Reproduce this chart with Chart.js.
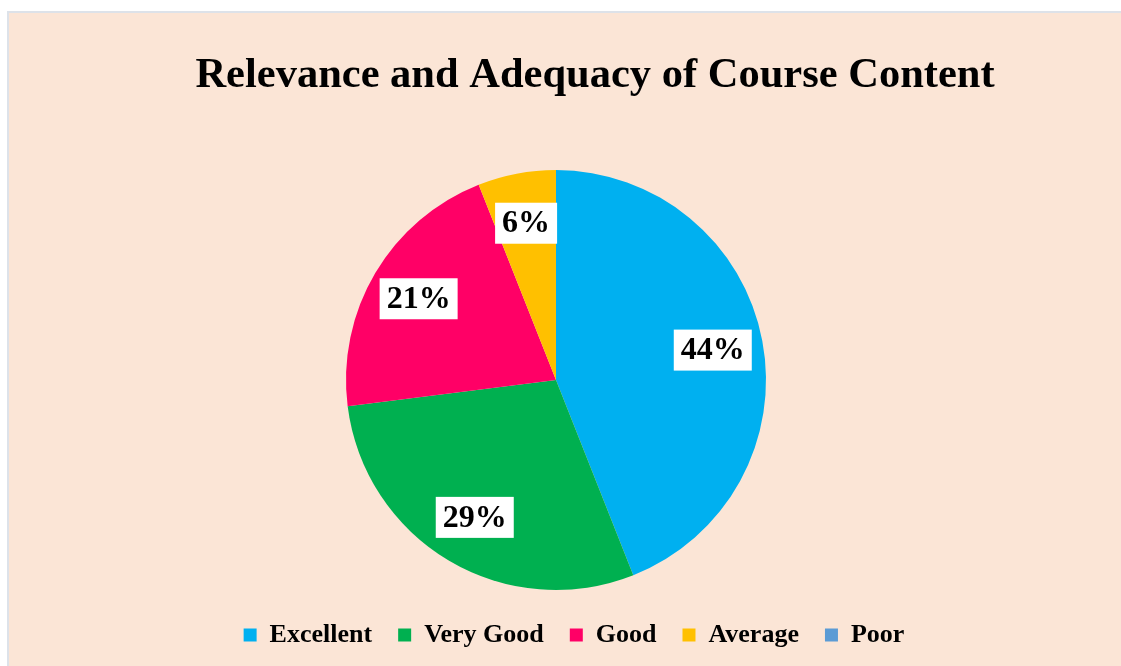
<!DOCTYPE html>
<html>
<head>
<meta charset="utf-8">
<script src="https://cdn.jsdelivr.net/npm/chart.js@4"></script>
<style>
  html, body { margin: 0; padding: 0; background: #fff; overflow: hidden; }
  #wrap {
    position: absolute; left: 7px; top: 11px;
    width: 1114px; height: 655px;
    background: #FBE5D6;
    border-top: 2px solid #dde2e9; border-left: 2px solid #dde2e9;
    box-sizing: border-box;
  }
  #courseChart { display: block; }
</style>
</head>
<body>
<div id="wrap"><canvas id="courseChart" width="1112" height="653"></canvas></div>
<script>
let ratings = ["Excellent", "Very Good", "Good", "Average", "Poor"];
let shares = [44, 29, 21, 6, 0];
let sliceColors = ["#00B0F0", "#00B050", "#FF0066", "#FFC000", "#5B9BD5"];
let chartTitle = "Relevance and Adequacy of Course Content";

let serif = "'Liberation Serif', 'Times New Roman', serif";

// title drawn a bit right of centre, like the original
let titlePlugin = {
  id: "titleText",
  afterDraw(chart) {
    let ctx = chart.ctx;
    ctx.save();
    ctx.font = "bold 42.5px " + serif;
    ctx.fillStyle = "#000";
    ctx.textAlign = "center";
    ctx.textBaseline = "alphabetic";
    ctx.fillText(chartTitle, 586, 74);
    ctx.restore();
  },
};

// percentage labels in white boxes
let labelPlugin = {
  id: "boxLabels",
  afterDatasetsDraw(chart) {
    let ctx = chart.ctx;
    let meta = chart.getDatasetMeta(0);
    ctx.save();
    ctx.font = "bold 32px " + serif;
    ctx.textAlign = "center";
    ctx.textBaseline = "middle";
    meta.data.forEach((arc, i) => {
      let v = shares[i];
      if (!v) return;
      let p = arc.getProps(["x", "y", "startAngle", "endAngle", "outerRadius"], true);
      let mid = (p.startAngle + p.endAngle) / 2;
      let r = p.outerRadius * 0.76;
      let x = p.x + Math.cos(mid) * r;
      let y = p.y + Math.sin(mid) * r;
      let text = v + "%";
      let w = ctx.measureText(text).width + 14;
      let h = 41;
      ctx.fillStyle = "#fff";
      ctx.fillRect(x - w / 2, y - h / 2, w, h);
      ctx.fillStyle = "#000";
      ctx.fillText(text, x, y + 1);
    });
    ctx.restore();
  },
};

// nudge legend to the right to sit where the original one does
let legendShift = {
  id: "legendShift",
  afterLayout(chart) {
    chart.legend.left += 18;
    chart.legend.right += 18;
  },
};

let ctx = document.getElementById("courseChart").getContext("2d");
let courseChart = new Chart(ctx, {
  type: "pie",
  data: {
    labels: ratings,
    datasets: [
      {
        data: shares,
        backgroundColor: sliceColors,
        borderWidth: 0,
      },
    ],
  },
  options: {
    responsive: false,
    animation: false,
    radius: 210,
    layout: { padding: { top: 151, bottom: 8, left: 0, right: 18 } },
    plugins: {
      title: { display: false },
      tooltip: { enabled: false },
      legend: {
        position: "bottom",
        labels: {
          color: "#000",
          font: { family: serif, size: 26, weight: "bold" },
          boxWidth: 13,
          boxHeight: 13,
          padding: 26,
        },
      },
    },
  },
  plugins: [titlePlugin, labelPlugin, legendShift],
});
</script>
</body>
</html>
